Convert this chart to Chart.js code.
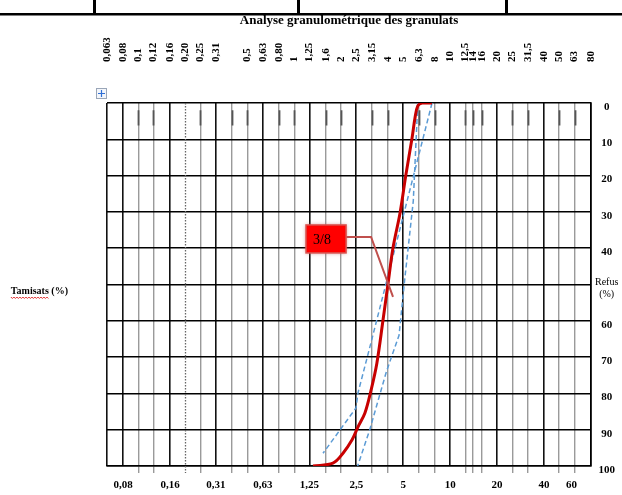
<!DOCTYPE html>
<html>
<head>
<meta charset="utf-8">
<script src="https://cdn.jsdelivr.net/npm/chart.js@4.4.1/dist/chart.umd.min.js"></script>
<style>
  html, body { margin: 0; padding: 0; background: #fff; }
  #wrap { width: 622px; height: 495px; position: relative; }
</style>
</head>
<body>
<div id="wrap"><canvas id="c" width="622" height="495"></canvas></div>
<script>
// Sieve openings (mm), one vertical rule each
const sieveSizes = [0.063, 0.08, 0.1, 0.125, 0.16, 0.2, 0.25, 0.315, 0.4, 0.5, 0.63, 0.8, 1, 1.25, 1.6, 2, 2.5,
  3.15, 4, 5, 6.3, 8, 10, 12.5, 14, 16, 20, 25, 31.5, 40, 50, 63, 80];
// Sieves drawn with a heavy rule
const majorSieves = [0.063, 0.08, 0.16, 0.315, 0.63, 1.25, 2.5, 5, 10, 20, 40, 80];
// Sieve drawn with a dotted rule
const dottedSieves = [0.2];

// Labels of the upper scale
const topLabelValues = [0.063, 0.08, 0.1, 0.125, 0.16, 0.2, 0.25, 0.315, 0.5, 0.63, 0.8, 1, 1.25, 1.6, 2, 2.5,
  3.15, 4, 5, 6.3, 8, 10, 12.5, 14, 16, 20, 25, 31.5, 40, 50, 63, 80];
const topLabelTexts = ['0,063', '0,08', '0,1', '0,12', '0,16', '0,20', '0,25', '0,31', '0,5', '0,63', '0,80', '1',
  '1,25', '1,6', '2', '2,5', '3,15', '4', '5', '6,3', '8', '10', '12,5', '14', '16', '20', '25', '31,5', '40', '50', '63', '80'];

// Labels of the lower scale
const bottomLabelValues = [0.08, 0.16, 0.315, 0.63, 1.25, 2.5, 5, 10, 20, 40, 60];
const bottomLabelTexts = ['0,08', '0,16', '0,31', '0,63', '1,25', '2,5', '5', '10', '20', '40', '60'];

// Refus scale (%)
const refusTicks = [0, 10, 20, 30, 40, 50, 60, 70, 80, 90, 100];

// Gravillon 3/8 : sieve (mm) and cumulative refus (%)
const gravelSizes = [7.65, 6.6, 6.2, 5.95, 5.7, 5.2, 4.77, 4.3, 4.0, 3.71, 3.39, 3.11, 2.84, 2.56, 2.35, 2.06, 1.77, 1.32];
const gravelRefus = [0, 0, 0.8, 4.1, 9.6, 19.8, 30.3, 39.9, 49.6, 59.8, 71.6, 79.1, 85.4, 89.3, 92.8, 96.4, 99.2, 100];

// Fuseau limits : sieve (mm) and refus (%)
const limitASizes = [6.2, 5.8, 5.1, 4.7, 3.9, 3.05, 2.55];
const limitARefus = [0, 27, 49, 64, 74, 90, 100];
const limitBSizes = [7.65, 3.15, 2.56, 2.49, 1.53];
const limitBRefus = [0, 65, 80, 84, 96.5];

const FONT = "'Liberation Serif', 'Times New Roman', serif";
const sameValue = (a, b) => Math.abs(a - b) <= 1e-6 * Math.max(Math.abs(a), Math.abs(b));
const inList = (v, list) => list.some(u => sameValue(u, v));
const toPoints = (xs, ys) => xs.map((x, i) => ({ x, y: ys[i] }));

const bottomTickValues = [...new Set([...sieveSizes, ...bottomLabelValues])].sort((a, b) => a - b);

// Callout "3/8" pointing at the gravel curve (value coordinates)
const callout = {
  text: '3/8',
  box: { x1: 1.19, y1: 33.6, x2: 2.15, y2: 41.3 },
  elbow: { x: 3.11, y: 36.9 },
  tip: { x: 4.3, y: 53.4 }
};

function ruleKind(v) {
  if (v === undefined || v === null) return 'none';
  if (inList(v, dottedSieves)) return 'dotted';
  if (inList(v, majorSieves)) return 'major';
  if (inList(v, sieveSizes)) return 'minor';
  return 'none';
}

// Axes keep their fixed box sizes: no extra room for overhanging labels
function fixBox(size) {
  return s => {
    if (s.isHorizontal()) s.height = size; else s.width = size;
    s.paddingTop = 0; s.paddingBottom = 0; s.paddingLeft = 0; s.paddingRight = 0;
  };
}

// Dotted rule and the short dark marks on the upper row
const sieveRules = {
  id: 'sieveRules',
  beforeDatasetsDraw(chart) {
    const { ctx, chartArea: a, scales: { x, y } } = chart;
    ctx.save();
    ctx.strokeStyle = '#666';
    ctx.lineWidth = 1.3;
    ctx.setLineDash([1.5, 1.5]);
    dottedSieves.forEach(v => {
      const px = Math.round(x.getPixelForValue(v)) + 0.5;
      ctx.beginPath(); ctx.moveTo(px, a.top); ctx.lineTo(px, a.bottom + 7); ctx.stroke();
    });
    ctx.setLineDash([]);
    ctx.strokeStyle = '#555';
    ctx.lineWidth = 1.8;
    sieveSizes.filter(v => ruleKind(v) === 'minor').forEach(v => {
      const px = Math.round(x.getPixelForValue(v)) + 0.5;
      ctx.beginPath(); ctx.moveTo(px, y.getPixelForValue(2)); ctx.lineTo(px, y.getPixelForValue(6.2)); ctx.stroke();
    });
    ctx.restore();
  }
};

// Callout box and its leader line
const calloutPlugin = {
  id: 'callout',
  afterDatasetsDraw(chart) {
    const { ctx, scales: { x, y } } = chart;
    const bx1 = x.getPixelForValue(callout.box.x1), bx2 = x.getPixelForValue(callout.box.x2);
    const by1 = y.getPixelForValue(callout.box.y1), by2 = y.getPixelForValue(callout.box.y2);
    const ex = x.getPixelForValue(callout.elbow.x), ey = y.getPixelForValue(callout.elbow.y);
    const tx = x.getPixelForValue(callout.tip.x), ty = y.getPixelForValue(callout.tip.y);
    ctx.save();
    ctx.strokeStyle = '#c0504d';
    ctx.lineWidth = 2;
    ctx.beginPath();
    ctx.moveTo(bx2, ey); ctx.lineTo(ex, ey); ctx.lineTo(tx, ty);
    ctx.stroke();
    ctx.shadowColor = 'rgba(192,80,77,0.7)';
    ctx.shadowBlur = 4;
    ctx.fillStyle = '#ff0000';
    ctx.fillRect(bx1, by1, bx2 - bx1, by2 - by1);
    ctx.shadowBlur = 0;
    ctx.strokeStyle = '#d9534f';
    ctx.lineWidth = 1.5;
    ctx.strokeRect(bx1, by1, bx2 - bx1, by2 - by1);
    ctx.fillStyle = '#000';
    ctx.font = "14px " + FONT;
    ctx.textAlign = 'left';
    ctx.textBaseline = 'middle';
    ctx.fillText(callout.text, bx1 + 7, (by1 + by2) / 2 + 1);
    ctx.restore();
  }
};

// Page furniture: table rule at the top, anchor handle, spelling underline
const pageDecor = {
  id: 'pageDecor',
  afterDraw(chart) {
    const { ctx, chartArea: a, scales: { yL } } = chart;
    ctx.save();
    ctx.fillStyle = '#000';
    ctx.fillRect(0, 13, chart.width, 2.5);
    [93, 297, 505].forEach(px => ctx.fillRect(px, 0, 3, 15));

    // table anchor handle
    const hx = a.left - 11, hy = a.top - 15;
    ctx.fillStyle = '#f3f6fb';
    ctx.fillRect(hx, hy, 11, 11);
    ctx.strokeStyle = '#9aa6b8';
    ctx.lineWidth = 1;
    ctx.strokeRect(hx + 0.5, hy + 0.5, 10, 10);
    ctx.strokeStyle = '#2f6fd6';
    ctx.lineWidth = 1.2;
    ctx.beginPath();
    ctx.moveTo(hx + 2, hy + 5.5); ctx.lineTo(hx + 9, hy + 5.5);
    ctx.moveTo(hx + 5.5, hy + 2); ctx.lineTo(hx + 5.5, hy + 9);
    ctx.stroke();

    // spelling underline under the left caption
    ctx.font = "bold 10px " + FONT;
    const label = 'Tamisats (%)';
    const right = yL.right - yL.options.ticks.padding;
    const left = right - ctx.measureText(label).width;
    const wordW = ctx.measureText('Tamisats').width;
    const uy = yL.getPixelForValue(50) + yL.options.ticks.labelOffset + 6;
    ctx.strokeStyle = '#e03030';
    ctx.lineWidth = 1;
    ctx.beginPath();
    for (let px = left, k = 0; px <= left + wordW; px += 1.5, k++) {
      const py = uy + (k % 2 ? 1 : -0.5);
      if (k === 0) ctx.moveTo(px, py); else ctx.lineTo(px, py);
    }
    ctx.stroke();
    ctx.restore();
  }
};

new Chart(document.getElementById('c'), {
  type: 'scatter',
  data: {
    datasets: [
      {
        label: '3/8',
        data: toPoints(gravelSizes, gravelRefus),
        showLine: true,
        borderColor: '#c80000',
        borderWidth: 3,
        tension: 0.35,
        pointRadius: 0,
        xAxisID: 'x', yAxisID: 'y'
      },
      {
        label: 'Fuseau A',
        data: toPoints(limitASizes, limitARefus),
        showLine: true,
        borderColor: '#5b9bd5',
        borderWidth: 1.5,
        borderDash: [5, 3],
        tension: 0,
        pointRadius: 0,
        xAxisID: 'x', yAxisID: 'y'
      },
      {
        label: 'Fuseau B',
        data: toPoints(limitBSizes, limitBRefus),
        showLine: true,
        borderColor: '#5b9bd5',
        borderWidth: 1.5,
        borderDash: [5, 3],
        tension: 0,
        pointRadius: 0,
        xAxisID: 'x', yAxisID: 'y'
      }
    ]
  },
  options: {
    responsive: false,
    animation: false,
    devicePixelRatio: 1,
    layout: { padding: 0 },
    plugins: {
      legend: { display: false },
      tooltip: { enabled: false },
      title: {
        display: true,
        fullSize: false,
        text: 'Analyse granulométrique des granulats',
        color: '#000',
        font: { family: FONT, size: 13, weight: 'bold' },
        padding: { top: 13, bottom: 0 }
      }
    },
    scales: {
      x: {
        type: 'logarithmic',
        position: 'bottom',
        min: 0.063, max: 80,
        afterBuildTicks: s => { s.ticks = bottomTickValues.map(v => ({ value: v })); },
        afterFit: fixBox(29),
        ticks: {
          autoSkip: false, minRotation: 0, maxRotation: 0, padding: 6,
          color: '#000',
          font: { family: FONT, size: 11, weight: 'bold' },
          callback: v => {
            const i = bottomLabelValues.findIndex(u => sameValue(u, v));
            return i < 0 ? '' : bottomLabelTexts[i];
          }
        },
        grid: {
          color: c => {
            const k = ruleKind(c.tick && c.tick.value);
            return k === 'major' ? '#111' : k === 'minor' ? '#9a9a9a' : 'rgba(0,0,0,0)';
          },
          lineWidth: c => ruleKind(c.tick && c.tick.value) === 'major' ? 1.6 : 1.4,
          tickLength: 7,
          tickWidth: 1.4,
          tickColor: c => ruleKind(c.tick && c.tick.value) === 'minor' ? '#9a9a9a' : 'rgba(0,0,0,0)'
        },
        border: { display: true, color: '#000', width: 1.6 }
      },
      x2: {
        type: 'logarithmic',
        position: 'top',
        min: 0.063, max: 80,
        afterBuildTicks: s => { s.ticks = topLabelValues.map(v => ({ value: v })); },
        afterFit: fixBox(103 - 13 - 13 * 1.2),
        grid: { display: false, drawTicks: false },
        border: { display: false },
        ticks: {
          autoSkip: false, minRotation: 90, maxRotation: 90, padding: 41,
          labelOffset: 13,
          color: '#000',
          font: { family: FONT, size: 11, weight: 'bold' },
          callback: v => {
            const i = topLabelValues.findIndex(u => sameValue(u, v));
            return i < 0 ? '' : topLabelTexts[i];
          }
        }
      },
      y: {
        type: 'linear',
        position: 'right',
        reverse: true,
        min: 0, max: 100,
        afterBuildTicks: s => { s.ticks = refusTicks.map(v => ({ value: v })); },
        afterFit: fixBox(31),
        ticks: {
          padding: 4,
          crossAlign: 'center',
          labelOffset: 4,
          color: '#000',
          font: c => (c.tick && c.tick.value === 50)
            ? { family: FONT, size: 10, lineHeight: 1.25 }
            : { family: FONT, size: 11, weight: 'bold' },
          callback: v => v === 50 ? ['Refus', '(%)'] : String(v)
        },
        grid: { color: '#000', lineWidth: 1.6, drawTicks: false },
        border: { display: true, color: '#000', width: 1.6 }
      },
      yL: {
        type: 'linear',
        position: 'left',
        min: 0, max: 100,
        afterBuildTicks: s => { s.ticks = [{ value: 50 }]; },
        afterFit: fixBox(107),
        grid: { display: false, drawTicks: false },
        border: { display: false },
        ticks: {
          padding: 39,
          labelOffset: 7,
          color: '#000',
          font: { family: FONT, size: 10, weight: 'bold' },
          callback: () => 'Tamisats (%)'
        }
      }
    }
  },
  plugins: [sieveRules, calloutPlugin, pageDecor]
});
</script>
</body>
</html>
